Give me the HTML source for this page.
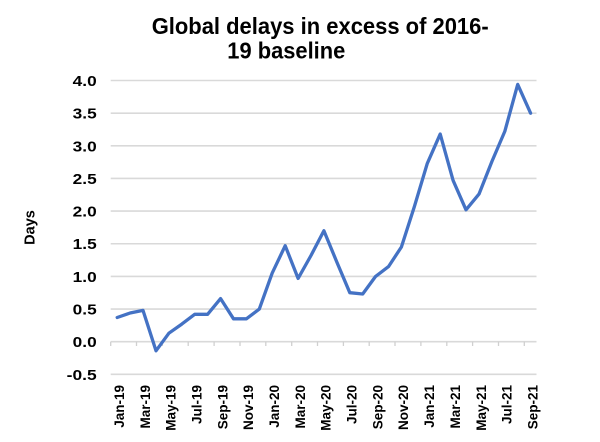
<!DOCTYPE html>
<html>
<head>
<meta charset="utf-8">
<style>
  html,body{margin:0;padding:0;background:#ffffff;}
  svg{display:block;}
  text{font-family:"Liberation Sans",Arial,sans-serif;font-weight:bold;fill:#000;}
</style>
</head>
<body>
<svg width="600" height="442" viewBox="0 0 600 442" xmlns="http://www.w3.org/2000/svg">
  <rect x="0" y="0" width="600" height="442" fill="#ffffff"/>

  <!-- Title -->
  <text x="151.7" y="34" font-size="23" textLength="337" lengthAdjust="spacingAndGlyphs">Global delays in excess of 2016-</text>
  <text x="227.3" y="58.5" font-size="23" textLength="118" lengthAdjust="spacingAndGlyphs">19 baseline</text>

  <!-- Gridlines -->
  <g stroke="#d9d9d9" stroke-width="1.6">
    <line x1="110.7" y1="80.5" x2="536.5" y2="80.5"/>
    <line x1="110.7" y1="113.15" x2="536.5" y2="113.15"/>
    <line x1="110.7" y1="145.8" x2="536.5" y2="145.8"/>
    <line x1="110.7" y1="178.45" x2="536.5" y2="178.45"/>
    <line x1="110.7" y1="211.1" x2="536.5" y2="211.1"/>
    <line x1="110.7" y1="243.75" x2="536.5" y2="243.75"/>
    <line x1="110.7" y1="276.4" x2="536.5" y2="276.4"/>
    <line x1="110.7" y1="309.05" x2="536.5" y2="309.05"/>
    <line x1="110.7" y1="341.7" x2="536.5" y2="341.7"/>
    <line x1="110.7" y1="374.35" x2="536.5" y2="374.35"/>
  </g>
  <!-- Tick marks on zero axis -->
  <g stroke="#d0d0d0" stroke-width="1.3">
    <line x1="110.7" y1="341.7" x2="110.7" y2="346"/>
    <line x1="136.5" y1="341.7" x2="136.5" y2="346"/>
    <line x1="162.4" y1="341.7" x2="162.4" y2="346"/>
    <line x1="188.2" y1="341.7" x2="188.2" y2="346"/>
    <line x1="214.1" y1="341.7" x2="214.1" y2="346"/>
    <line x1="240.0" y1="341.7" x2="240.0" y2="346"/>
    <line x1="265.8" y1="341.7" x2="265.8" y2="346"/>
    <line x1="291.7" y1="341.7" x2="291.7" y2="346"/>
    <line x1="317.5" y1="341.7" x2="317.5" y2="346"/>
    <line x1="343.4" y1="341.7" x2="343.4" y2="346"/>
    <line x1="369.2" y1="341.7" x2="369.2" y2="346"/>
    <line x1="395.0" y1="341.7" x2="395.0" y2="346"/>
    <line x1="420.9" y1="341.7" x2="420.9" y2="346"/>
    <line x1="446.8" y1="341.7" x2="446.8" y2="346"/>
    <line x1="472.6" y1="341.7" x2="472.6" y2="346"/>
    <line x1="498.5" y1="341.7" x2="498.5" y2="346"/>
    <line x1="524.3" y1="341.7" x2="524.3" y2="346"/>
  </g>

  <!-- Y tick labels -->
  <g font-size="15" text-anchor="end">
    <text x="96.7" y="86" textLength="24" lengthAdjust="spacingAndGlyphs">4.0</text>
    <text x="96.7" y="118.6" textLength="24" lengthAdjust="spacingAndGlyphs">3.5</text>
    <text x="96.7" y="151.3" textLength="24" lengthAdjust="spacingAndGlyphs">3.0</text>
    <text x="96.7" y="183.9" textLength="24" lengthAdjust="spacingAndGlyphs">2.5</text>
    <text x="96.7" y="216.6" textLength="24" lengthAdjust="spacingAndGlyphs">2.0</text>
    <text x="96.7" y="249.2" textLength="24" lengthAdjust="spacingAndGlyphs">1.5</text>
    <text x="96.7" y="281.9" textLength="24" lengthAdjust="spacingAndGlyphs">1.0</text>
    <text x="96.7" y="314.5" textLength="24" lengthAdjust="spacingAndGlyphs">0.5</text>
    <text x="96.7" y="347.2" textLength="24" lengthAdjust="spacingAndGlyphs">0.0</text>
    <text x="96.7" y="379.8" textLength="30" lengthAdjust="spacingAndGlyphs">-0.5</text>
  </g>

  <!-- Y axis title -->
  <text font-size="14.5" text-anchor="middle" transform="translate(34.5,227.5) rotate(-90)">Days</text>

  <!-- X labels -->
  <g font-size="13.5" text-anchor="end">
    <text transform="translate(124.0,385) rotate(-90)">Jan-19</text>
    <text transform="translate(149.8,385) rotate(-90)">Mar-19</text>
    <text transform="translate(175.7,385) rotate(-90)">May-19</text>
    <text transform="translate(201.5,385) rotate(-90)">Jul-19</text>
    <text transform="translate(227.4,385) rotate(-90)">Sep-19</text>
    <text transform="translate(253.2,385) rotate(-90)">Nov-19</text>
    <text transform="translate(279.0,385) rotate(-90)">Jan-20</text>
    <text transform="translate(304.9,385) rotate(-90)">Mar-20</text>
    <text transform="translate(330.7,385) rotate(-90)">May-20</text>
    <text transform="translate(356.6,385) rotate(-90)">Jul-20</text>
    <text transform="translate(382.4,385) rotate(-90)">Sep-20</text>
    <text transform="translate(408.2,385) rotate(-90)">Nov-20</text>
    <text transform="translate(434.1,385) rotate(-90)">Jan-21</text>
    <text transform="translate(459.9,385) rotate(-90)">Mar-21</text>
    <text transform="translate(485.8,385) rotate(-90)">May-21</text>
    <text transform="translate(511.6,385) rotate(-90)">Jul-21</text>
    <text transform="translate(537.4,385) rotate(-90)">Sep-21</text>
  </g>

  <!-- Data line -->
  <polyline fill="none" stroke="#4472c4" stroke-width="3.3" stroke-linejoin="round" stroke-linecap="round"
    points="117.2,317.5 130.1,313.0 143.0,310.4 156.0,350.8 168.9,333.2 181.8,324.1 194.7,314.3 207.6,314.3 220.6,298.6 233.5,318.8 246.4,318.8 259.3,309.05 272.2,273.1 285.2,245.7 298.1,278.4 311.0,255.5 323.9,230.7 336.8,262.0 349.8,292.7 362.7,294.0 375.6,276.4 388.5,266.6 401.4,247.0 414.4,206.5 427.3,163.4 440.2,134.05 453.1,180.4 466.0,209.8 479.0,194.1 491.9,161.5 504.8,131.4 517.7,84.4 530.6,113.2"/>
</svg>
</body>
</html>
